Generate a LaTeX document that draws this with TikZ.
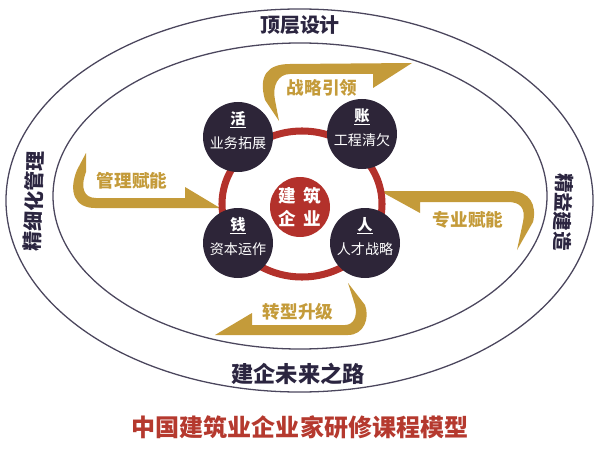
\documentclass[tikz,border=0pt]{standalone}
\usepackage{fontspec}
\setmainfont{Noto Sans CJK SC}
\usetikzlibrary{positioning}
\definecolor{gold}{HTML}{C49B3A}
\definecolor{hubc}{HTML}{2D2538}
\definecolor{redc}{HTML}{B3312B}
\definecolor{inkc}{HTML}{2B2540}
\definecolor{titlec}{HTML}{B5392E}
\tikzset{
  band/.style={draw=inkc!85, line width=1.1pt},
  loopr/.style={draw=redc, line width=6pt},
  hub/.style={circle, fill=hubc, minimum size=2.1cm, inner sep=0pt},
  core/.style={circle, fill=redc, minimum size=1.8cm, inner sep=0pt, text=white, align=center, font=\fontsize{15}{20}\selectfont\bfseries},
  hkey/.style={text=white, inner sep=1pt, font=\fontsize{13}{13}\selectfont\bfseries},
  hsub/.style={text=white, inner sep=1pt, font=\fontsize{12}{12}\selectfont},
  glbl/.style={text=gold, inner sep=1pt, font=\fontsize{15}{15}\selectfont\bfseries},
  olbl/.style={text=inkc, inner sep=1pt, font=\fontsize{17}{17}\selectfont\bfseries},
  garrow/.style={fill=gold, draw=none}
}

\begin{document}
\begin{tikzpicture}[x=0.03cm, y=-0.03cm]
        \useasboundingbox (0,0) rectangle (599,454);
        % outer and inner rings
        \draw[band] (299.5,200.5) ellipse [x radius=8.805cm, y radius=5.745cm];
        \draw[band] (300,196) ellipse [x radius=7.41cm, y radius=4.59cm];
        % gold turning arrows
        \fill[garrow] (279,121) -- (265,100) .. controls (258,75) and (268,64) .. (290,64)
          -- (412,63) -- (373,88) -- (373,74) -- (290,74)
          .. controls (278,74) and (272,86) .. (275,100) -- cycle;
        \fill[garrow] (86,153) -- (77,170) .. controls (68,192) and (75,208) .. (95,208)
          -- (220,208) -- (185,187) -- (185,198) -- (96,198)
          .. controls (84,198) and (80,188) .. (86,172) -- cycle;
        \fill[garrow] (380,191) -- (510,191) .. controls (530,191) and (537,205) .. (533,222)
          -- (517,250) -- (523,222) .. controls (526,208) and (520,202) .. (508,202)
          -- (420,202) -- (420,213) -- cycle;
        \fill[garrow] (215,335) -- (348,335) .. controls (364,335) and (370,318) .. (365,305)
          -- (348,283) -- (355,305) .. controls (358,317) and (353,325) .. (345,325)
          -- (252,325) -- (252,313) -- cycle;
        % red loop
        \draw[loopr] (302,204) ellipse [x radius=2.4cm, y radius=2.19cm];
        % four hubs
        \node[hub] (huo) at (238,137) {};
        \node[hkey] at ([yshift=5.2mm]huo) {\underline{活}};
        \node[hsub] at ([yshift=-1.8mm]huo) {业务拓展};
        \node[hub] (zhang) at (362,134) {};
        \node[hkey] at ([yshift=5.2mm]zhang) {\underline{账}};
        \node[hsub] at ([yshift=-1.8mm]zhang) {工程清欠};
        \node[hub] (qian) at (238,243) {};
        \node[hkey] at ([yshift=5.2mm]qian) {\underline{钱}};
        \node[hsub] at ([yshift=-1.8mm]qian) {资本运作};
        \node[hub] (ren) at (365,243) {};
        \node[hkey] at ([yshift=5.2mm]ren) {\underline{人}};
        \node[hsub] at ([yshift=-1.8mm]ren) {人才战略};
        \node[core] (core) at (300,207) {建\hspace{6pt}筑\\企\hspace{6pt}业};
        % arrow labels
        \node[glbl] (zl) at (322,88) {战略引领};
        \node[glbl] (gl) at (132,181) {管理赋能};
        \node[glbl] (zy) at (468,220) {专业赋能};
        \node[glbl] (zx) at (298,312) {转型升级};
        % ring labels
        \node[olbl] (top) at (300,25) {顶层设计};
        \node[olbl, font=\fontsize{19}{19}\selectfont\bfseries] (bot) at (298,374) {建企未来之路};
        \node[olbl, rotate=88] (lft) at (34,201) {精细化管理};
        \node[olbl, rotate=-92, font=\fontsize{16.5}{16.5}\selectfont\bfseries] (rgt) at (563,212) {精益建造};
        \node[text=titlec, font=\fontsize{20.5}{20.5}\selectfont\bfseries] (title) at (300,427) {中国建筑业企业家研修课程模型};
      \end{tikzpicture}
\end{document}
